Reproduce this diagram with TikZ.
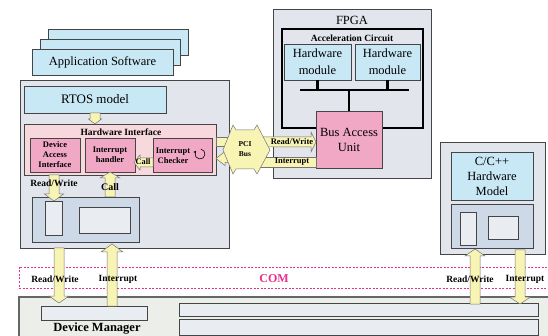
\documentclass[tikz,border=0pt]{standalone}
\usepackage{fontspec}
\setmainfont{Liberation Serif}
\usetikzlibrary{arrows.meta}
\definecolor{gbox}{HTML}{E2E5EB}
\definecolor{lblue}{HTML}{C9E8F5}
\definecolor{pinkb}{HTML}{F1A8C5}
\definecolor{pinkl}{HTML}{F6D8DD}
\definecolor{steel}{HTML}{CDD9E6}
\definecolor{innerc}{HTML}{E9EDF1}
\definecolor{yel}{HTML}{F8F4B4}
\definecolor{mag}{HTML}{E8308A}
\definecolor{dmc}{HTML}{ECEEE9}
\definecolor{edge}{HTML}{454545}
\tikzset{
  base/.style={draw=edge, line width=0.7pt, align=center, inner sep=0pt, outer sep=0pt, anchor=north west},
  graybox/.style={base, fill=gbox},
  bluebox/.style={base, fill=lblue},
  pinkbox/.style={base, fill=pinkb},
  pinklight/.style={base, fill=pinkl},
  steelbox/.style={base, fill=steel},
  innerbox/.style={base, fill=innerc},
  fat/.style={fill=yel, draw=edge!75, line width=0.5pt, line join=miter},
  busline/.style={line width=2.6pt, black},
  lab/.style={font=\bfseries\fontsize{9.5}{10}\selectfont, inner sep=0pt},
  smalllab/.style={font=\bfseries\fontsize{8.5}{10}\selectfont, inner sep=0pt, align=center},
  big/.style={font=\fontsize{12.5}{15}\selectfont, inner sep=0pt, align=center},
  bigtext/.style={font=\fontsize{12.5}{15}\selectfont},
  hmtext/.style={font=\fontsize{12.5}{17}\selectfont},
  boldsmall/.style={font=\bfseries\fontsize{8.5}{10}\selectfont},
}
\newcommand\rbox[7]{\node[#1, minimum width={(#5-#3)*1pt}, minimum height={(#6-#4)*1pt}] (#2) at (#3,#4) {#7};}
% vertical fat arrow: x, ystart, ytip, shaft half, head half, signed head length
\newcommand\fatv[6]{\draw[fat] ({#1-#4},#2) -- ({#1-#4},{#3+(#6)}) -- ({#1-#5},{#3+(#6)}) -- (#1,#3) -- ({#1+#5},{#3+(#6)}) -- ({#1+#4},{#3+(#6)}) -- ({#1+#4},#2) -- cycle;}
% horizontal fat arrow: y, xstart, xtip, shaft half, head half, signed head length
\newcommand\fath[6]{\draw[fat] (#2,{#1-#4}) -- ({#3+(#6)},{#1-#4}) -- ({#3+(#6)},{#1-#5}) -- (#3,#1) -- ({#3+(#6)},{#1+#5}) -- ({#3+(#6)},{#1+#4}) -- (#2,{#1+#4}) -- cycle;}
\begin{document}
\begin{tikzpicture}[x=1pt,y=-1pt]
\useasboundingbox (0,0) rectangle (548,336);
\clip (0,0) rectangle (548,336);
% application software stack
\rbox{bluebox}{app3}{48}{29}{188}{55}{}
\rbox{bluebox}{app2}{40}{39}{180}{65}{}
\rbox{bluebox, font=\fontsize{12.5}{14}\selectfont}{app1}{32}{49}{173}{75}{Application Software}
% left main box
\rbox{graybox}{left}{20}{80}{229}{248}{}
\rbox{bluebox, font=\fontsize{13}{15}\selectfont}{rtos}{24}{86}{166}{113}{RTOS model}
\rbox{pinklight}{hwi}{24}{124}{216}{175}{}
\node[lab] (hwit) at (121,132) {Hardware Interface};
\rbox{pinkbox, boldsmall}{dai}{30}{138}{80}{172}{Device\\Access\\Interface}
\rbox{pinkbox, boldsmall}{ih}{85}{138}{135}{172}{Interrupt\\handler}
\rbox{pinkbox}{ic}{153}{138}{212}{172}{}
\node[smalllab] (ict) at (173,156) {Interrupt\\Checker};
\draw[line width=0.6pt, -{Stealth[length=3pt,width=3pt]}] (200,154) ++(-80:5) arc (-80:220:5);
\rbox{steelbox}{dev}{32}{197}{139}{242}{}
\rbox{innerbox}{devA}{45}{201}{62}{235}{}
\rbox{innerbox}{devB}{79}{207}{130}{233}{}
% FPGA
\rbox{graybox}{fpga}{273}{9}{431}{178}{}
\node[big] (fpgat) at (352,20) {FPGA};
\rbox{graybox, draw=black, line width=1.2pt}{acc}{282}{29}{423}{128}{}
\node[lab] (acct) at (352,38) {Acceleration Circuit};
\rbox{bluebox, hmtext}{hm1}{284}{44}{351}{80}{Hardware\\module}
\rbox{bluebox, hmtext}{hm2}{355}{44}{420}{80}{Hardware\\module}
\coordinate (busL) at (300,90);
\coordinate (busR) at (409,90);
\draw[busline] (busL) -- (busR);
\rbox{pinkbox, bigtext}{bau}{316}{111}{382}{168}{Bus Access\\Unit}
\draw[busline] (hm1.south) -- (hm1.south |- busL);
\draw[busline] (hm2.south) -- (hm2.south |- busL);
\draw[busline] (bau.north) -- (bau.north |- busL);
% right model
\rbox{graybox}{rbox}{440}{142}{545}{254}{}
\rbox{bluebox, bigtext}{cpp}{451}{152}{533}{200}{C/C++\\Hardware\\Model}
\rbox{steelbox}{rdev}{451}{204}{533}{248}{}
\rbox{innerbox}{rdevA}{460}{212}{476}{245}{}
\rbox{innerbox}{rdevB}{488}{216}{518}{239}{}
% device manager
\node[base, fill=dmc, draw=gray!80!black, line width=1.3pt, minimum width=560pt, minimum height=60pt] (dm) at (19,297) {};
\rbox{innerbox}{dmbox}{41}{306}{147}{320}{}
\rbox{innerbox}{bar1}{179}{303}{538}{316}{}
\rbox{innerbox}{bar2}{179}{319}{538}{335}{}
\node[font=\bfseries\fontsize{12.5}{14}\selectfont, inner sep=0pt] (dmt) at (97,329) {Device Manager};
% COM
\draw[mag, line width=0.8pt, dash pattern=on 2pt off 1.5pt] (19,267) rectangle (570,288);
\node[font=\bfseries\fontsize{12}{14}\selectfont, text=mag, inner sep=0pt] (com) at (274,279) {COM};
% fat arrows
\fatv{95}{113}{124}{5}{6.5}{-5}
\fatv{54}{175}{201}{5}{9.5}{-7}
\fatv{110}{197}{172}{5}{10}{6}
\fath{162.5}{153}{134}{4.5}{7.5}{6}
\fatv{59}{248}{303}{5}{10}{-7}
\fatv{112}{306}{244}{5}{11}{8}
\fatv{475}{304}{249}{5}{10}{7}
\fatv{520}{250}{304}{5}{10.5}{-7}
% PCI bands
\draw[fat] (216,137) -- (236,137) -- (236,146) -- (216,146) -- cycle;
\fath{158.5}{236}{216}{4}{7}{9}
\fath{142}{258}{316}{5}{10}{-5}
\draw[fat] (258,157) -- (316,157) -- (316,167) -- (258,167) -- cycle;
\draw[fat] (223,150) -- (233,125) -- (236,130) -- (254,130) -- (257,125) -- (270,150) -- (257,174) -- (254,169) -- (236,169) -- (233,174) -- cycle;
\node[font=\bfseries\fontsize{7.5}{10}\selectfont, inner sep=0pt, align=center] (pci) at (245,149) {PCI\\Bus};
% labels
\node[font=\bfseries\fontsize{8.5}{10}\selectfont, inner sep=0pt] (rwr) at (292,142) {Read/Write};
\node[font=\bfseries\fontsize{8.5}{10}\selectfont, inner sep=0pt] (intr) at (292,162) {Interrupt};
\node[font=\bfseries\fontsize{8.3}{10}\selectfont, inner sep=0pt] (calli) at (143,162) {Call};
\node[lab] (rwl) at (54,183) {Read/Write};
\node[lab, font=\bfseries\fontsize{10}{11}\selectfont] (calll) at (110,187) {Call};
\node[lab] (rw1) at (55,279) {Read/Write};
\node[lab] (in1) at (118,279) {Interrupt};
\node[lab] (rw2) at (470,279) {Read/Write};
\node[lab] (in2) at (525,279) {Interrupt};
\end{tikzpicture}
\end{document}
